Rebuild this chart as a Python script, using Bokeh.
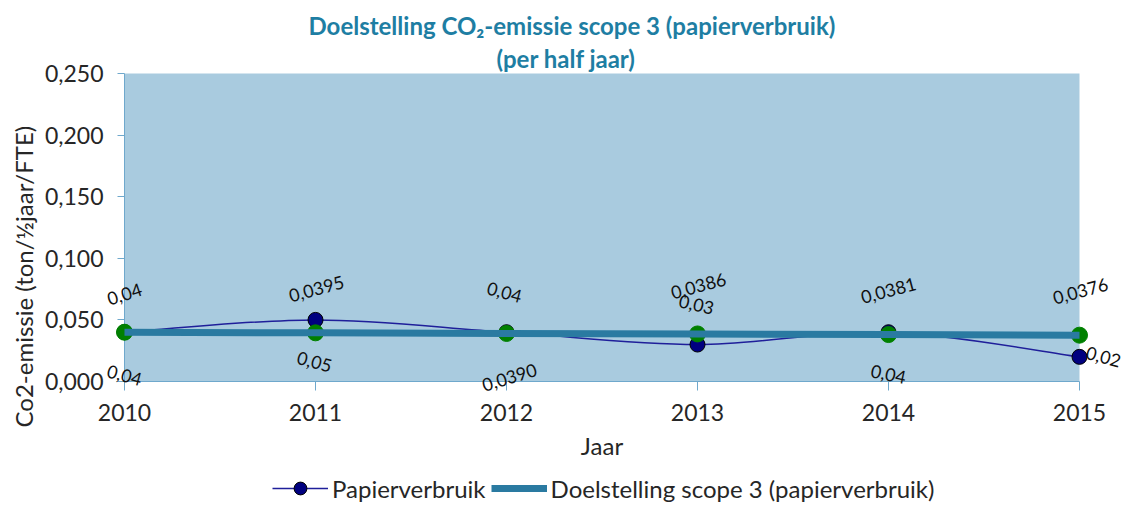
import numpy as np
from bokeh.plotting import figure
from bokeh.layouts import column
from bokeh.models import (Range1d, FixedTicker, CustomJSTickFormatter, Legend,
                          LegendItem, ColumnDataSource, Title)
from bokeh.core.properties import value
from bokeh.embed import file_html
from bokeh.resources import INLINE

# ---- data ----
years = [2010, 2011, 2012, 2013, 2014, 2015]
papier = [0.04, 0.05, 0.04, 0.03, 0.04, 0.02]
doel = [0.04, 0.0395, 0.0390, 0.0386, 0.0381, 0.0376]
papier_labels = ["0,04", "0,05", "0,04", "0,03", "0,04", "0,02"]
doel_labels = ["0,04", "0,0395", "0,0390", "0,0386", "0,0381", "0,0376"]
year_labels = ["2010", "2011", "2012", "2013", "2014", "2015"]
y_ticks = [0.0, 0.05, 0.10, 0.15, 0.20, 0.25]

# ---- label styling (offsets in px, up = positive; angles in degrees) ----
papier_dx = [0, -1, -2, -1, 0, 24]
papier_dy = [-43, -42, 40, 40, -42, 0]
papier_ang = [-15, -15, -15, -13, -12, -15]
doel_dx = [0, 1, 3, 1, 0, 1]
doel_dy = [38, 44, -44, 48, 44, 44]
doel_ang = [18, 15, 17, 15, 15, 15]

FONT = "Lato"
BG = "#A9CBDF"
AXIS_C = "#6FA8CC"
TEAL = "#2A7AA1"
NAVY = "#000080"
LINE_NAVY = "#1F1F9A"
GREEN = "#008000"
TXT = "#262626"
TITLE_C = "#1E7EA3"

W = 1130
p = figure(width=W, height=470, output_backend="svg", toolbar_location=None,
           x_range=Range1d(2010, 2015), y_range=Range1d(0, 0.25),
           min_border_left=124, min_border_right=W - 1079, min_border_top=73, min_border_bottom=89,
           background_fill_color=BG, outline_line_color=None,
           title="Doelstelling CO\u2082-emissie scope 3 (papierverbruik)")
p.grid.visible = False
t2 = Title(text="(per half jaar)")
p.add_layout(t2, "above")
for t, off in ((p.title, 184), (t2, 372)):
    t.align = "left"
    t.offset = off
    t.text_font = FONT
    t.text_font_size = "24px"
    t.text_font_style = "bold"
    t.text_color = TITLE_C
    t.standoff = 2

# axes
xa = p.xaxis[0]
xa.ticker = FixedTicker(ticks=years)
xa.major_label_overrides = {y: l for y, l in zip(years, year_labels)}
xa.axis_label = "Jaar"
ya = p.yaxis[0]
ya.ticker = FixedTicker(ticks=y_ticks)
ya.formatter = CustomJSTickFormatter(code="return tick.toFixed(3).replace('.', ',');")
# trailing no-break spaces shift the (centred) title towards the bottom, as in the original
ya.axis_label = "Co2-emissie (ton/\u00bdjaar/FTE)" + "\u00a0" * 16
for ax in (xa, ya):
    ax.axis_line_color = AXIS_C
    ax.major_tick_line_color = AXIS_C
    ax.minor_tick_line_color = None
    ax.major_tick_in = 0
    ax.major_label_text_font = FONT
    ax.major_label_text_font_size = "23px"
    ax.major_label_text_color = TXT
    ax.axis_label_text_font = FONT
    ax.axis_label_text_font_size = "24px"
    ax.axis_label_text_font_style = "normal"
    ax.axis_label_text_color = TXT
xa.major_tick_out = 9
ya.major_tick_out = 7
xa.major_label_standoff = 13
ya.major_label_standoff = 14
xa.axis_label_standoff = 7
ya.axis_label_standoff = 4

# smooth Papierverbruik line (Bezier segments through the data points)
xs = np.array(years, dtype=float)
ys = np.array(papier, dtype=float)
xe = np.concatenate([[xs[0]], xs, [xs[-1]]])
ye = np.concatenate([[ys[0]], ys, [ys[-1]]])
n = len(xs)
seg = dict(x0=xs[:-1], y0=ys[:-1], x1=xs[1:], y1=ys[1:],
           cx0=xs[:-1] + (xe[2:n + 1] - xe[0:n - 1]) / 6.0,
           cy0=ys[:-1] + (ye[2:n + 1] - ye[0:n - 1]) / 6.0,
           cx1=xs[1:] - (xe[3:n + 2] - xe[1:n]) / 6.0,
           cy1=ys[1:] - (ye[3:n + 2] - ye[1:n]) / 6.0)
bz = p.bezier(x0="x0", y0="y0", x1="x1", y1="y1", cx0="cx0", cy0="cy0", cx1="cx1", cy1="cy1",
              source=ColumnDataSource(seg), line_color=LINE_NAVY, line_width=1.5)
bz.level = "annotation"

src = ColumnDataSource(dict(x=years, p=papier, d=doel, pl=papier_labels, dl=doel_labels,
                            pdx=papier_dx, pdy=[-v for v in papier_dy],
                            pang=list(np.deg2rad(papier_ang)),
                            ddx=doel_dx, ddy=[-v for v in doel_dy],
                            dang=list(np.deg2rad(doel_ang))))

ps = p.scatter("x", "p", source=src, size=15, fill_color=NAVY, line_color="#000000", line_width=1)
ps.level = "annotation"
gs = p.scatter("x", "d", source=src, size=16, fill_color=GREEN, line_color=GREEN)
gs.level = "annotation"
dl = p.line("x", "d", source=src, line_color=TEAL, line_width=7)
dl.level = "annotation"

# data labels
for lab, dx, dy, ang, yv in (("pl", "pdx", "pdy", "pang", "p"), ("dl", "ddx", "ddy", "dang", "d")):
    tr = p.text(x="x", y=yv, text=lab, x_offset=dx, y_offset=dy, angle=ang, source=src,
                text_align="center", text_baseline="middle", text_font=value(FONT),
                text_font_size="18px", text_color="#111111")
    tr.level = "annotation"

# ---- legend strip below the chart ----
lg = figure(width=W, height=36, output_backend="svg", toolbar_location=None,
            x_range=Range1d(0, 1), y_range=Range1d(0, 1), x_axis_type=None, y_axis_type=None,
            min_border=0, outline_line_color=None, background_fill_alpha=0, border_fill_alpha=0)
lg.grid.visible = False
lsrc = ColumnDataSource(dict(x=years, p=papier, d=doel))
l_line = lg.line("x", "p", source=lsrc, line_color=LINE_NAVY, line_width=1.5)
l_pt = lg.scatter("x", "p", source=lsrc, fill_color=NAVY, line_color="#000000", line_width=1)
l_doel = lg.line("x", "d", source=lsrc, line_color=TEAL, line_width=7)
legend = Legend(items=[LegendItem(label="Papierverbruik", renderers=[l_line, l_pt]),
                       LegendItem(label="Doelstelling scope 3 (papierverbruik)", renderers=[l_doel])],
                orientation="horizontal", location=(148, 2), border_line_color=None,
                background_fill_alpha=0, padding=0, margin=0, spacing=5,
                glyph_width=56, glyph_height=32, label_standoff=4,
                label_text_font=FONT, label_text_font_size="24px", label_text_color=TXT)
lg.add_layout(legend, "center")

open("out.html", "w").write(file_html(column(p, lg, spacing=0), INLINE))
